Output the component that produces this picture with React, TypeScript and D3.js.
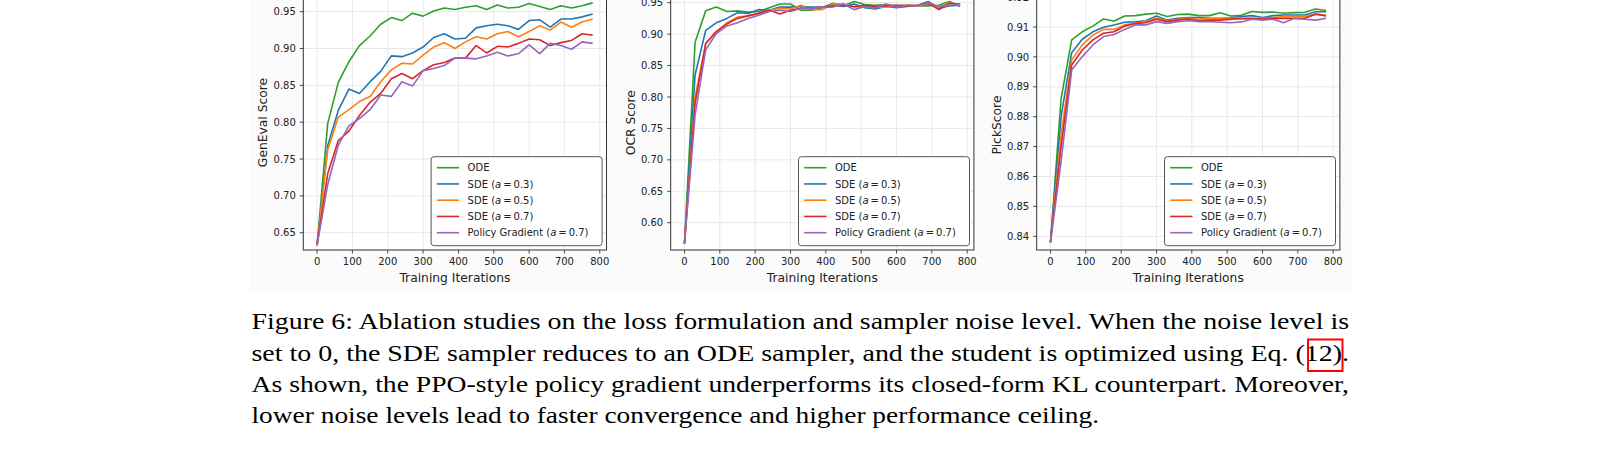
import React from "react";
import * as d3 from "d3";

// training steps shared by every run
const iterations = [0, 30, 60, 90, 120, 150, 180, 210, 240, 270, 300, 330, 360, 390, 420, 450, 480, 510, 540, 570, 600, 630, 660, 690, 720, 750, 780];
const xTicks = [0, 100, 200, 300, 400, 500, 600, 700, 800];

// GenEval
const genevalODE = [0.633, 0.798, 0.854, 0.882, 0.904, 0.917, 0.933, 0.942, 0.938, 0.948, 0.944, 0.951, 0.955, 0.953, 0.956, 0.958, 0.953, 0.959, 0.955, 0.956, 0.961, 0.957, 0.953, 0.958, 0.955, 0.958, 0.962];
const genevalSDE03 = [0.633, 0.768, 0.816, 0.845, 0.839, 0.855, 0.869, 0.890, 0.889, 0.894, 0.902, 0.915, 0.920, 0.913, 0.914, 0.928, 0.931, 0.933, 0.931, 0.926, 0.938, 0.939, 0.929, 0.940, 0.940, 0.943, 0.947];
const genevalSDE05 = [0.633, 0.762, 0.807, 0.817, 0.828, 0.835, 0.855, 0.871, 0.880, 0.879, 0.891, 0.902, 0.908, 0.900, 0.909, 0.916, 0.913, 0.920, 0.923, 0.916, 0.923, 0.931, 0.925, 0.936, 0.929, 0.936, 0.940];
const genevalSDE07 = [0.633, 0.730, 0.775, 0.788, 0.809, 0.827, 0.839, 0.859, 0.866, 0.859, 0.870, 0.878, 0.881, 0.887, 0.887, 0.904, 0.894, 0.903, 0.902, 0.907, 0.913, 0.912, 0.904, 0.908, 0.911, 0.920, 0.918];
const genevalPG = [0.633, 0.715, 0.769, 0.795, 0.805, 0.817, 0.837, 0.835, 0.855, 0.849, 0.870, 0.873, 0.877, 0.887, 0.887, 0.886, 0.890, 0.895, 0.890, 0.893, 0.905, 0.893, 0.907, 0.904, 0.899, 0.909, 0.907];
const genevalTicks = [0.65, 0.7, 0.75, 0.8, 0.85, 0.9, 0.95];

// OCR
const ocrODE = [0.567, 0.887, 0.937, 0.943, 0.936, 0.937, 0.935, 0.936, 0.942, 0.948, 0.948, 0.938, 0.938, 0.942, 0.949, 0.945, 0.952, 0.947, 0.946, 0.947, 0.945, 0.946, 0.945, 0.945, 0.946, 0.952, 0.944];
const ocrSDE03 = [0.567, 0.835, 0.906, 0.918, 0.925, 0.934, 0.933, 0.939, 0.938, 0.943, 0.943, 0.944, 0.943, 0.943, 0.946, 0.944, 0.948, 0.942, 0.940, 0.944, 0.942, 0.944, 0.946, 0.952, 0.941, 0.945, 0.946];
const ocrSDE05 = [0.567, 0.800, 0.885, 0.904, 0.918, 0.927, 0.929, 0.933, 0.938, 0.941, 0.940, 0.946, 0.939, 0.939, 0.948, 0.948, 0.943, 0.944, 0.943, 0.943, 0.945, 0.946, 0.945, 0.948, 0.943, 0.950, 0.946];
const ocrSDE07 = [0.567, 0.790, 0.885, 0.904, 0.916, 0.925, 0.929, 0.933, 0.938, 0.932, 0.938, 0.941, 0.941, 0.943, 0.945, 0.946, 0.944, 0.946, 0.944, 0.945, 0.946, 0.945, 0.946, 0.949, 0.939, 0.949, 0.948];
const ocrPG = [0.567, 0.771, 0.875, 0.901, 0.913, 0.918, 0.925, 0.930, 0.936, 0.938, 0.936, 0.941, 0.941, 0.943, 0.943, 0.948, 0.939, 0.944, 0.941, 0.948, 0.943, 0.946, 0.945, 0.950, 0.944, 0.946, 0.948];
const ocrTicks = [0.6, 0.65, 0.7, 0.75, 0.8, 0.85, 0.9, 0.95];

// PickScore
const pickODE = [0.838, 0.886, 0.9057, 0.9084, 0.9103, 0.9127, 0.912, 0.9137, 0.9138, 0.9143, 0.9146, 0.9135, 0.9142, 0.9143, 0.9138, 0.9138, 0.9148, 0.9137, 0.9139, 0.9152, 0.9149, 0.915, 0.9146, 0.9148, 0.9149, 0.916, 0.9155];
const pickSDE03 = [0.838, 0.880, 0.9014, 0.9059, 0.9084, 0.9099, 0.9107, 0.9116, 0.9117, 0.9121, 0.9137, 0.9123, 0.9129, 0.9132, 0.9132, 0.9129, 0.9129, 0.9131, 0.9135, 0.9138, 0.9132, 0.9138, 0.914, 0.914, 0.914, 0.9151, 0.9151];
const pickSDE05 = [0.838, 0.874, 0.899, 0.904, 0.9073, 0.9092, 0.9092, 0.9107, 0.9112, 0.9118, 0.9129, 0.9121, 0.9126, 0.9129, 0.9126, 0.9128, 0.9128, 0.9129, 0.9129, 0.9129, 0.9129, 0.9132, 0.9135, 0.9135, 0.9135, 0.9143, 0.914];
const pickSDE07 = [0.838, 0.870, 0.8973, 0.9023, 0.9057, 0.9079, 0.9084, 0.9103, 0.9112, 0.9114, 0.9126, 0.9118, 0.9123, 0.9127, 0.9121, 0.9123, 0.9123, 0.9126, 0.9128, 0.9128, 0.9127, 0.9129, 0.9129, 0.9129, 0.9129, 0.9143, 0.9137];
const pickPG = [0.838, 0.865, 0.8956, 0.9001, 0.904, 0.9068, 0.9075, 0.9092, 0.9107, 0.9107, 0.9118, 0.9112, 0.9118, 0.9121, 0.9118, 0.9118, 0.9116, 0.9114, 0.9117, 0.9126, 0.9123, 0.9126, 0.9114, 0.9129, 0.9126, 0.9123, 0.9129];
const pickTicks = [0.84, 0.85, 0.86, 0.87, 0.88, 0.89, 0.9, 0.91, 0.92];

// legend entries: text before the italic "a", then the noise level
const legendPrefix = ["ODE", "SDE (", "SDE (", "SDE (", "Policy Gradient ("];
const legendNoise = [null, "0.3", "0.5", "0.7", "0.7"];
const colors = ["#2ca02c", "#1f77b4", "#ff7f0e", "#d62728", "#9467bd"];

const captionLines = [
  "Figure 6: Ablation studies on the loss formulation and sampler noise level. When the noise level is",
  "set to 0, the SDE sampler reduces to an ODE sampler, and the student is optimized using Eq. (12).",
  "As shown, the PPO-style policy gradient underperforms its closed-form KL counterpart. Moreover,",
  "lower noise levels lead to faster convergence and higher performance ceiling.",
];

const FONT = "'DejaVu Sans', sans-serif";
const SERIF = "'Liberation Serif', 'Times New Roman', serif";
const W = 303.2;
const BOTTOM = 250;
const fmt = d3.format(".2f");

type PanelProps = {
  left: number;
  yLabel: string;
  yLabelY: number;
  series: number[][];
  ticks: number[];
  yDomain: [number, number];
  yRange: [number, number];
};

function Panel({ left, yLabel, yLabelY, series, ticks, yDomain, yRange }: PanelProps) {
  const x = d3.scaleLinear().domain([-39, 819]).range([left, left + W]);
  const y = d3.scaleLinear().domain(yDomain).range(yRange);
  const line = d3
    .line<number>()
    .x((_, i) => x(iterations[i]))
    .y((d) => y(d));
  const top = -20;
  const right = left + W;

  const lgW = 171;
  const lgH = 89;
  const lgX = right - 4.4 - lgW;
  const lgY = BOTTOM - 4.3 - lgH;

  return (
    <g style={{ fontFamily: FONT }}>
      <rect x={left} y={top} width={W} height={BOTTOM - top} fill="#fff" />
      {/* grid */}
      {xTicks.map((t) => (
        <line key={"gx" + t} x1={x(t)} x2={x(t)} y1={top} y2={BOTTOM} stroke="#e8e8e8" strokeWidth={1} />
      ))}
      {ticks.map((t) => (
        <line key={"gy" + t} x1={left} x2={right} y1={y(t)} y2={y(t)} stroke="#e8e8e8" strokeWidth={1} />
      ))}
      {/* series */}
      {series.map((s, i) => (
        <path key={i} d={line(s) || ""} fill="none" stroke={colors[i]} strokeWidth={1.6} strokeLinejoin="round" />
      ))}
      {/* spines */}
      <rect x={left} y={top} width={W} height={BOTTOM - top} fill="none" stroke="#333" strokeWidth={1} />
      {/* x axis */}
      {xTicks.map((t) => (
        <g key={"xt" + t}>
          <line x1={x(t)} x2={x(t)} y1={BOTTOM} y2={BOTTOM + 3.5} stroke="#333" strokeWidth={0.9} />
          <text x={x(t)} y={BOTTOM + 15.3} fontSize={10} textAnchor="middle" fill="#222">
            {t}
          </text>
        </g>
      ))}
      <text x={left + W / 2} y={281.5} fontSize={12.3} textAnchor="middle" fill="#222">
        Training Iterations
      </text>
      {/* y axis */}
      {ticks.map((t) => (
        <g key={"yt" + t}>
          <line x1={left - 3.5} x2={left} y1={y(t)} y2={y(t)} stroke="#333" strokeWidth={0.9} />
          <text x={left - 7.5} y={y(t) + 3.6} fontSize={10} textAnchor="end" fill="#222">
            {fmt(t)}
          </text>
        </g>
      ))}
      <text
        transform={`translate(${left - 36.2},${yLabelY}) rotate(-90)`}
        fontSize={12.3}
        textAnchor="middle"
        fill="#222"
      >
        {yLabel}
      </text>
      {/* legend */}
      <rect x={lgX} y={lgY} width={lgW} height={lgH} rx={3} fill="#fff" stroke="#555" strokeWidth={1} />
      {legendPrefix.map((p, i) => {
        const ry = lgY + 11 + i * 16.25;
        return (
          <g key={"lg" + i}>
            <line x1={lgX + 5.7} x2={lgX + 28} y1={ry} y2={ry} stroke={colors[i]} strokeWidth={1.6} />
            <text x={lgX + 36.5} y={ry + 3.6} fontSize={10} fill="#222">
              {p}
              {legendNoise[i] && (
                <>
                  <tspan fontStyle="italic">a</tspan>
                  <tspan>{"\u2009=\u2009" + legendNoise[i] + ")"}</tspan>
                </>
              )}
            </text>
          </g>
        );
      })}
    </g>
  );
}

export default function App() {
  return (
    <svg
      width={1600}
      height={470}
      style={{ position: "absolute", left: 0, top: 0, background: "#fff" }}
    >
      <rect x={250} y={0} width={1102} height={292} fill="#fbfbfb" />
      <Panel
        left={303.3}
        yLabel="GenEval Score"
        yLabelY={122.5}
        series={[genevalODE, genevalSDE03, genevalSDE05, genevalSDE07, genevalPG]}
        ticks={genevalTicks}
        yDomain={[0.65, 0.95]}
        yRange={[232.7, 11.7]}
      />
      <Panel
        left={670.7}
        yLabel="OCR Score"
        yLabelY={122.7}
        series={[ocrODE, ocrSDE03, ocrSDE05, ocrSDE07, ocrPG]}
        ticks={ocrTicks}
        yDomain={[0.6, 0.95]}
        yRange={[222.7, 2.7]}
      />
      <Panel
        left={1036.7}
        yLabel="PickScore"
        yLabelY={125}
        series={[pickODE, pickSDE03, pickSDE05, pickSDE07, pickPG]}
        ticks={pickTicks}
        yDomain={[0.84, 0.91]}
        yRange={[236.3, 27]}
      />
      {/* caption */}
      <g style={{ fontFamily: SERIF }} fontSize={23} fill="#000">
        {captionLines.map((l, i) => (
          <text
            key={i}
            x={251.5}
            y={329.3 + i * 31.3}
            textLength={i < 3 ? 1097.5 : 847.5}
            lengthAdjust="spacingAndGlyphs"
          >
            {l}
          </text>
        ))}
      </g>
      <rect x={1308} y={339.5} width={34.5} height={31.5} fill="none" stroke="#ff0000" strokeWidth={2} />
    </svg>
  );
}
